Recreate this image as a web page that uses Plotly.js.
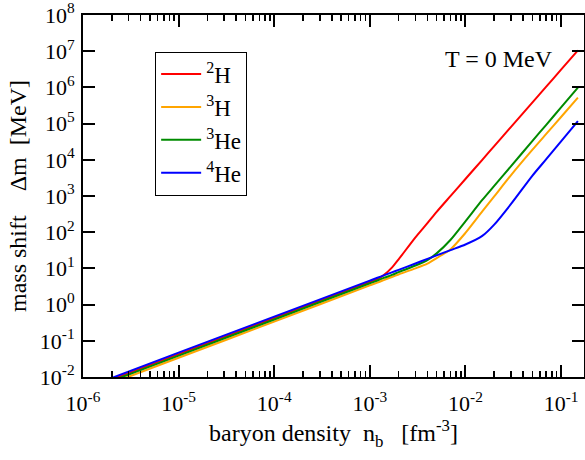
<!DOCTYPE html>
<html>
<head>
<meta charset="utf-8">
<script src="https://cdn.plot.ly/plotly-3.0.1.min.js"></script>
<style>html,body{margin:0;padding:0;background:#fff;}#chart{width:585px;height:460px;}</style>
</head>
<body>
<div id="chart"></div>
<script>
// baryon density grid [fm^-3]
const density = [1e-6, 1e-5, 1e-4, 1e-3, 1.2e-3, 1.4e-3, 1.7e-3, 2e-3, 3e-3, 4e-3, 5e-3, 7e-3, 1e-2, 1.5e-2, 2e-2, 3e-2, 5e-2, 7e-2, 0.1, 0.15];
// mass shift [MeV]
const shiftH2  = [0.00427, 0.0427, 0.427, 4.27, 5.1, 6.5, 10.5, 17.8, 72, 178, 364, 1005, 2950, 1.0e4, 2.39e4, 8.13e4, 3.81e5, 1.05e6, 3.09e6, 1.05e7];
const shiftH3  = [0.00339, 0.0339, 0.339, 3.39, 4.05, 4.75, 5.8, 6.8, 10, 13.5, 19.3, 33.9, 95.5, 375, 977, 3780, 18800, 51900, 1.52e5, 5.2e5];
const shiftHe3 = [0.0039, 0.039, 0.389, 3.89, 4.65, 5.45, 6.6, 7.9, 12, 17, 26, 62, 200, 776, 1905, 6700, 32700, 92700, 2.8e5, 9.86e5];
const shiftHe4 = [0.0047, 0.047, 0.465, 4.6, 5.5, 6.4, 7.8, 9.1, 13.7, 18.3, 22.9, 32, 45.7, 79, 162, 603, 3600, 10400, 32400, 1.17e5];

const seriesNames = ['<sup>2</sup>H', '<sup>3</sup>H', '<sup>3</sup>He', '<sup>4</sup>He'];
const seriesColors = ['#ff0000', '#ffa500', '#008b00', '#0000ff'];

const xTickVals = [1e-6, 1e-5, 1e-4, 1e-3, 1e-2, 1e-1];
const xTickText = ['10<sup>-6</sup>', '10<sup>-5</sup>', '10<sup>-4</sup>', '10<sup>-3</sup>', '10<sup>-2</sup>', '10<sup>-1</sup>'];
const yTickVals = [1e-2, 1e-1, 1e0, 1e1, 1e2, 1e3, 1e4, 1e5, 1e6, 1e7, 1e8];
const yTickText = ['10<sup>-2</sup>', '10<sup>-1</sup>', '10<sup>0</sup>', '10<sup>1</sup>', '10<sup>2</sup>', '10<sup>3</sup>', '10<sup>4</sup>', '10<sup>5</sup>', '10<sup>6</sup>', '10<sup>7</sup>', '10<sup>8</sup>'];

const minorX = [];
for (let e = -6; e <= -1; e++) for (let d = 2; d <= 9; d++) minorX.push(d * Math.pow(10, e));

const ys = [shiftH2, shiftH3, shiftHe3, shiftHe4];
const traces = ys.map((y, i) => ({
  x: density, y: y, type: 'scatter', mode: 'lines', name: seriesNames[i],
  line: {color: seriesColors[i], width: 2, shape: 'spline', smoothing: 0.7}
}));

const font = 'Liberation Serif, Times New Roman, serif';
const s2 = '\u00a0\u00a0', s3 = '\u00a0\u00a0\u00a0', s4 = '\u00a0\u00a0\u00a0\u00a0';
const layout = {
  width: 585, height: 460,
  margin: {l: 83, r: 1, t: 15, b: 83},
  paper_bgcolor: '#fff', plot_bgcolor: '#fff',
  font: {family: font, color: '#000', size: 22},
  showlegend: true,
  legend: {
    x: 0.144, y: 0.899, xanchor: 'left', yanchor: 'top',
    bordercolor: '#000', borderwidth: 1, bgcolor: '#fff',
    font: {family: font, size: 23, color: '#000'},
    itemwidth: 40, tracegroupgap: 0
  },
  xaxis: {
    type: 'log', range: [-6, -0.76],
    showgrid: false, zeroline: false,
    showline: true, linecolor: '#000', linewidth: 2, mirror: 'allticks',
    ticks: 'inside', ticklen: 12, tickwidth: 2, tickcolor: '#000',
    tickmode: 'array', tickvals: xTickVals, ticktext: xTickText,
    tickfont: {family: font, size: 22},
    ticklabelstandoff: 6, ticklabeloverflow: 'allow',
    minor: {ticks: 'inside', ticklen: 6, tickwidth: 1.5, tickcolor: '#000', tickmode: 'array', tickvals: minorX, showgrid: false},
    title: {text: 'baryon density' + s2 + 'n<sub>b</sub>' + s3 + '[fm<sup>-3</sup>]', font: {family: font, size: 24}, standoff: 8}
  },
  yaxis: {
    type: 'log', range: [-2, 8],
    showgrid: false, zeroline: false,
    showline: true, linecolor: '#000', linewidth: 2, mirror: 'allticks',
    ticks: 'inside', ticklen: 12, tickwidth: 2, tickcolor: '#000',
    tickmode: 'array', tickvals: yTickVals, ticktext: yTickText,
    tickfont: {family: font, size: 22},
    ticklabelstandoff: 2, ticklabeloverflow: 'allow',
    title: {text: 'mass shift' + s4 + '\u0394m' + s2 + '[MeV]', font: {family: font, size: 24}, standoff: 6}
  },
  annotations: [{
    text: 'T = 0 MeV', xref: 'paper', yref: 'paper', x: 0.83, y: 0.878,
    xanchor: 'center', yanchor: 'middle', showarrow: false,
    font: {family: font, size: 24, color: '#000'}
  }]
};

Plotly.newPlot('chart', traces, layout, {staticPlot: true, displayModeBar: false});
</script>
</body>
</html>
